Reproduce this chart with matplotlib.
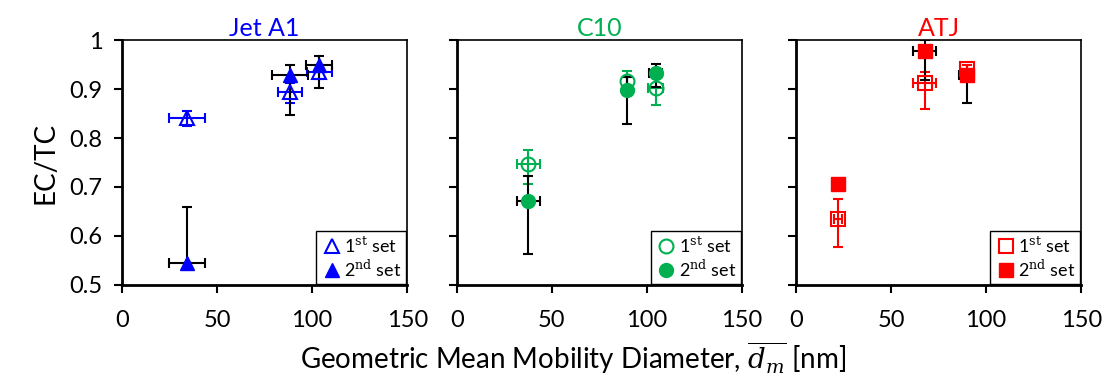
import numpy as np
import matplotlib.pyplot as plt
from matplotlib.lines import Line2D

plt.rcParams['font.family'] = ['Lato', 'DejaVu Sans']
plt.rcParams['mathtext.fontset'] = 'dejavuserif'

fuels = ['Jet A1', 'C10', 'ATJ']
colors = ['#0000FF', '#00B050', '#FF0000']
markers = ['^', 'o', 's']

# 1st set: diameter, x error, EC/TC, lower / upper y error
x1 = [[34, 88.4, 103.7], [37.6, 89.4, 104.6], [22.2, 67.8, 89.8]]
xe1 = [[9.5, 6.5, 6.6], [6, 0, 4], [2, 6, 0]]
y1 = [[0.840, 0.894, 0.935], [0.747, 0.917, 0.903], [0.634, 0.912, 0.940]]
ye1_lo = [[0.015, 0.022, 0.015], [0.040, 0.030, 0.035], [0.056, 0.053, 0.010]]
ye1_hi = [[0.015, 0.018, 0.015], [0.028, 0.020, 0.030], [0.041, 0.022, 0.010]]

# 2nd set
x2 = [[34, 88.4, 103.7], [37.6, 89.4, 104.6], [22.2, 67.8, 89.8]]
xe2 = [[9.5, 9.4, 7], [6, 0, 3.5], [0, 6, 4]]
y2 = [[0.544, 0.929, 0.949], [0.671, 0.897, 0.932], [0.706, 0.978, 0.929]]
ye2_lo = [[0.0, 0.083, 0.046], [0.108, 0.069, 0.027], [0.008, 0.060, 0.057]]
ye2_hi = [[0.115, 0.021, 0.019], [0.052, 0.028, 0.020], [0.005, 0.022, 0.010]]

fig = plt.figure(figsize=(11.12, 3.87), dpi=100)
lefts = [0.1097, 0.4107, 0.7158]
w, b, h = 0.2565, 0.2636, 0.633

for k in range(3):
    ax = fig.add_axes([lefts[k], b, w, h])
    c = colors[k]
    ax.errorbar(x1[k], y1[k], xerr=xe1[k], yerr=[ye1_lo[k], ye1_hi[k]],
                fmt='none', ecolor=c, elinewidth=1.5, capsize=3.5, capthick=1.5, zorder=2)
    ax.errorbar(x2[k], y2[k], xerr=xe2[k], yerr=[ye2_lo[k], ye2_hi[k]],
                fmt='none', ecolor='black', elinewidth=1.5, capsize=3.5, capthick=1.5, zorder=3)
    ax.plot(x1[k], y1[k], linestyle='none', marker=markers[k], markersize=10,
            markerfacecolor='none', markeredgecolor=c, markeredgewidth=1.5, zorder=4)
    ax.plot(x2[k], y2[k], linestyle='none', marker=markers[k], markersize=10,
            markerfacecolor=c, markeredgecolor=c, zorder=5)

    ax.set_xlim(0, 150)
    ax.set_ylim(0.5, 1.0)
    ax.set_xticks([0, 50, 100, 150])
    ax.set_yticks([0.5, 0.6, 0.7, 0.8, 0.9, 1.0])
    ax.tick_params(direction='out', length=6, width=1.5, labelsize=17, pad=8)
    ax.tick_params(axis='x', pad=12)
    if k == 0:
        ax.set_yticklabels(['0.5', '0.6', '0.7', '0.8', '0.9', '1'])
        ax.set_ylabel('EC/TC', fontsize=20, labelpad=8)
    else:
        ax.set_yticklabels([])
    for s in ['left', 'bottom']:
        ax.spines[s].set_linewidth(2)
    for s in ['top', 'right']:
        ax.spines[s].set_linewidth(1.2)
    ax.set_title(fuels[k], color=c, fontsize=18, pad=3)

    handles = [Line2D([], [], linestyle='none', marker=markers[k], markersize=10,
                      markerfacecolor='none', markeredgecolor=c, markeredgewidth=1.5),
               Line2D([], [], linestyle='none', marker=markers[k], markersize=10,
                      markerfacecolor=c, markeredgecolor=c)]
    leg = ax.legend(handles, ['1$^{\\mathrm{st}}$ set', '2$^{\\mathrm{nd}}$ set'],
                    loc='lower right', fontsize=13, fancybox=False, framealpha=1,
                    edgecolor='black', borderpad=0.25, handletextpad=0.1,
                    handlelength=1.2, labelspacing=0.15, borderaxespad=0.05)
    leg.get_frame().set_linewidth(1)

fig.text(0.515, 0.075, r'Geometric Mean Mobility Diameter, $\overline{d_m}$ [nm]',
         ha='center', va='center', fontsize=20)

fig.savefig('out.png', dpi=100)
